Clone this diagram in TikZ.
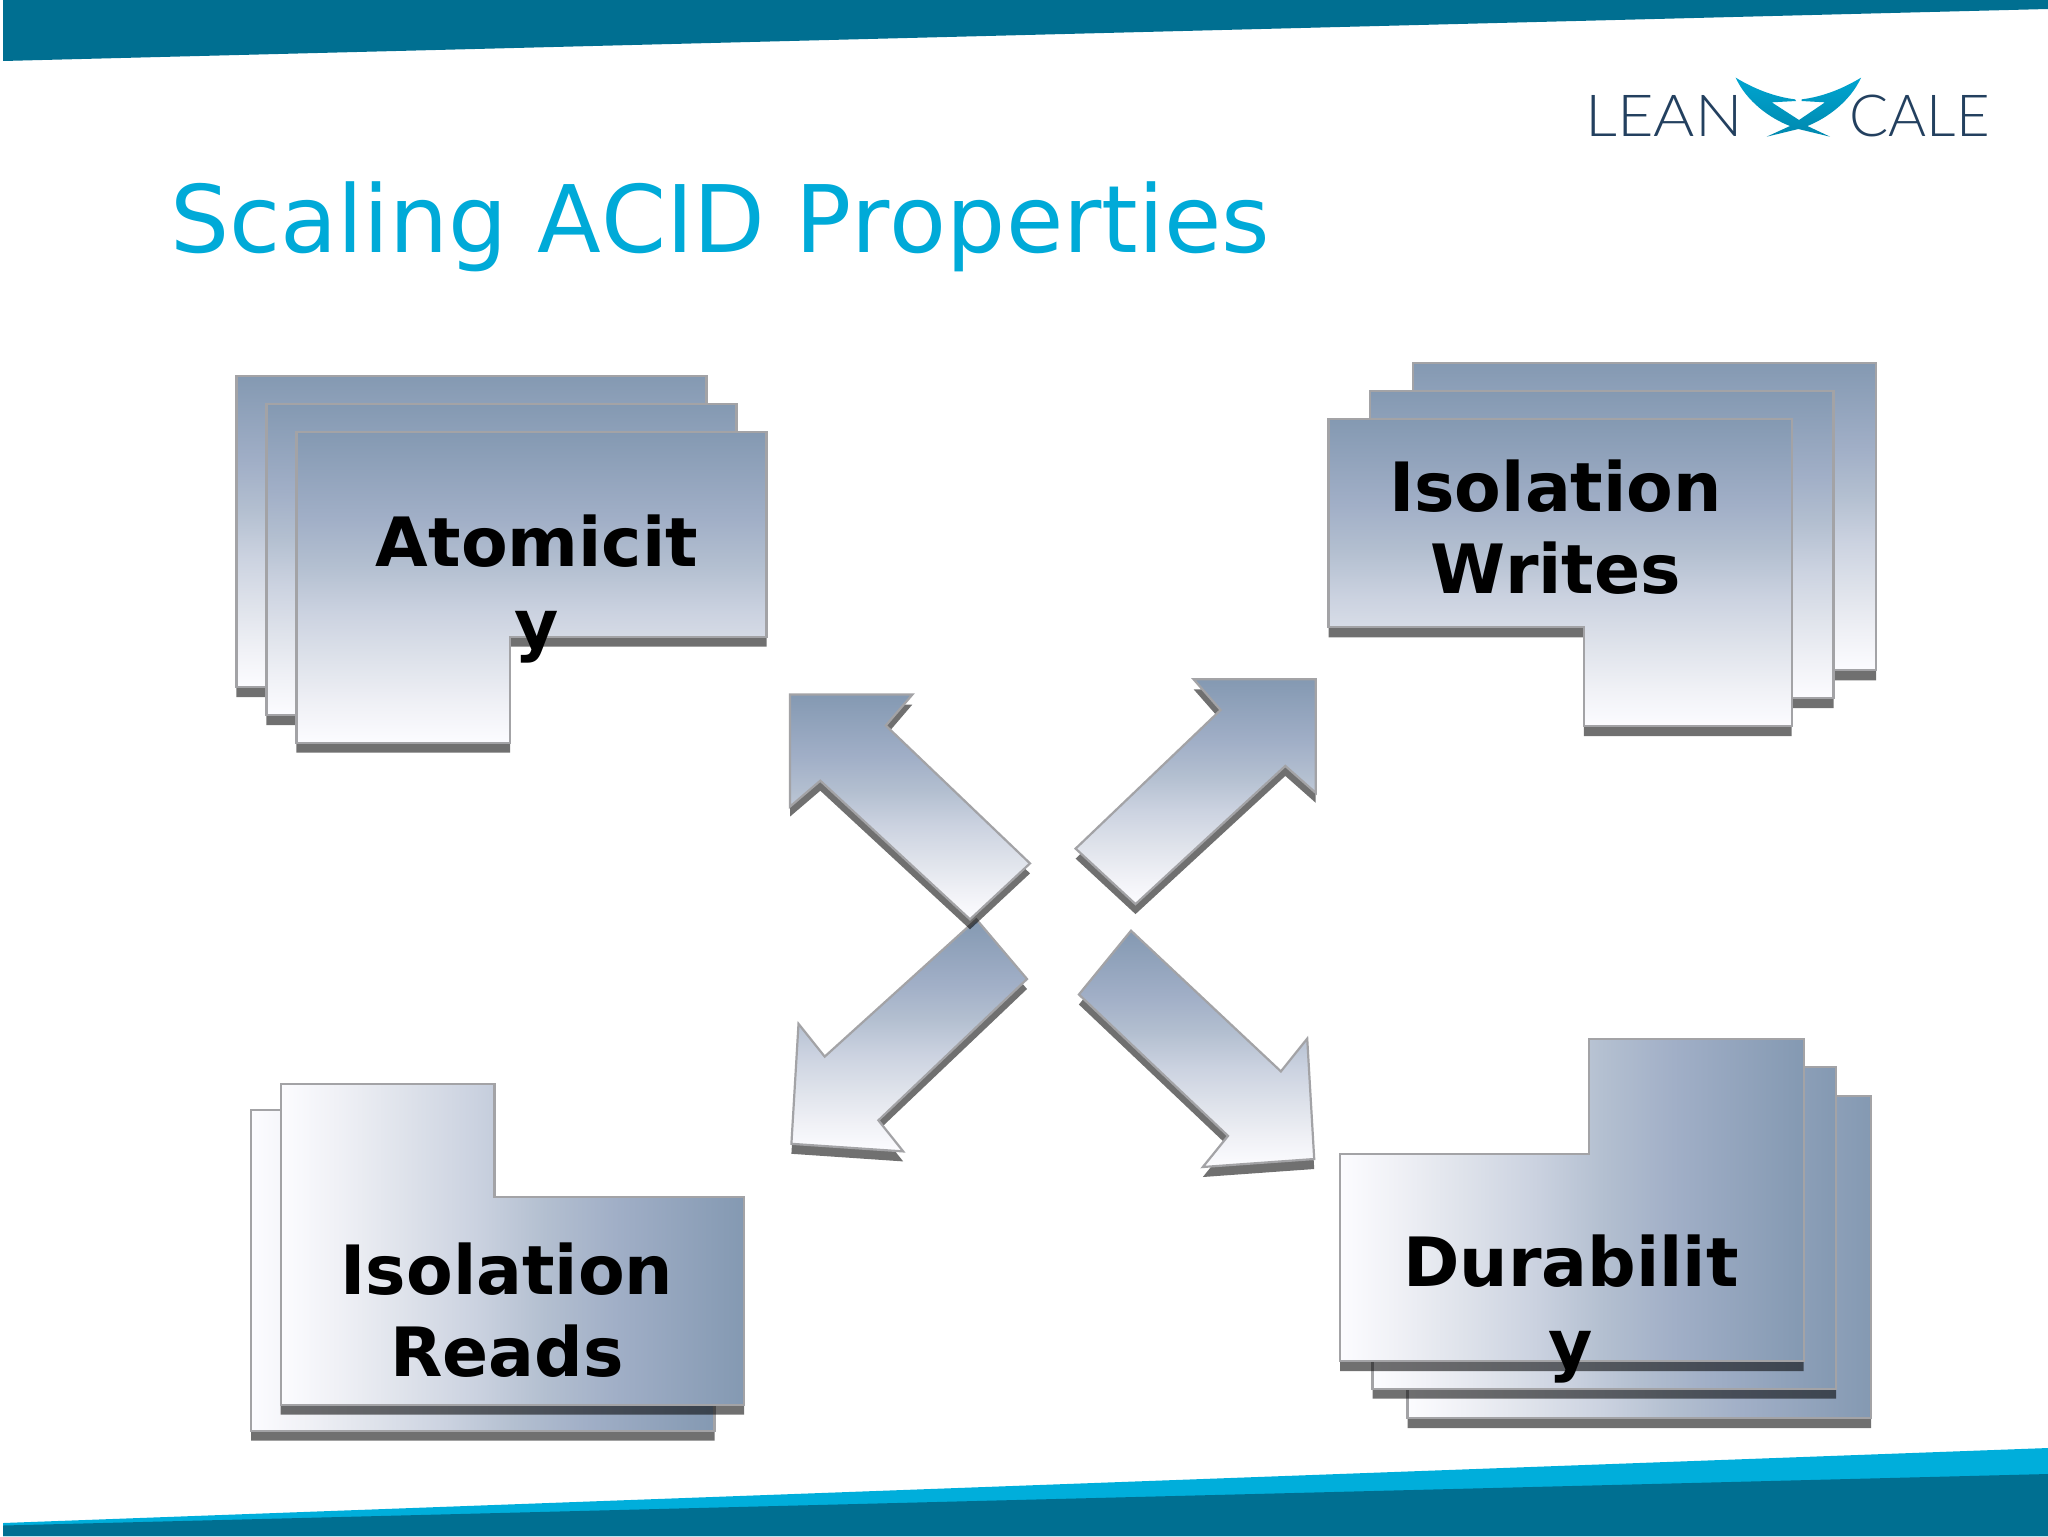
\documentclass[tikz,border=0pt]{standalone}
\usepackage{fontspec}
\setmainfont[Kerning=Off]{DejaVu Sans}
\newfontfamily\logofont{Lato Light}
\definecolor{bandDark}{HTML}{006F91}
\definecolor{bandLight}{HTML}{00AEDB}
\definecolor{titleBlue}{HTML}{00AAD8}
\definecolor{edgeGrey}{HTML}{A3A3A6}
\definecolor{logoNavy}{HTML}{23405F}
\definecolor{gA}{HTML}{FCFCFF}
\definecolor{gB}{HTML}{F0F1F6}
\definecolor{gC}{HTML}{DFE3EB}
\definecolor{gD}{HTML}{CBD2E0}
\definecolor{gE}{HTML}{B3BFD0}
\definecolor{gF}{HTML}{A1AFC7}
\definecolor{gG}{HTML}{8499B2}
\pgfdeclareverticalshading{acidsteel}{100bp}{color(0bp)=(gA); color(25bp)=(gA); color(31bp)=(gB); color(38bp)=(gC); color(46bp)=(gD); color(53.5bp)=(gE); color(61bp)=(gF); color(75bp)=(gG); color(100bp)=(gG)}
\tikzset{
  shadowplate/.style={fill=black,fill opacity=0.56,draw=none},
  faceV/.style={shade,shading=acidsteel,shading angle=0,draw=edgeGrey,line width=1.1pt,line join=miter},
  faceH/.style={shade,shading=acidsteel,shading angle=-90,draw=edgeGrey,line width=1.1pt,line join=miter},
  lbl/.style={font=\fontsize{34}{41}\selectfont\bfseries,text=black,inner sep=0pt,align=center,anchor=base},
}
\newcommand{\plate}[2]{\path[shadowplate,shift={(0,10)}] #2 -- cycle; \path[#1] #2 -- cycle;}
\newcommand{\atomshape}{(296.4,431.7)--(766.5,431.7)--(766.5,636.7)--(510,636.7)--(510,742.7)--(296.4,742.7)}
\newcommand{\writeshape}{(1328.5,419)--(1791.7,419)--(1791.7,726)--(1583.8,726)--(1583.8,627.3)--(1328.5,627.3)}
\newcommand{\readshape}{(280.6,1083.7)--(494.5,1083.7)--(494.5,1197)--(744,1197)--(744,1404.7)--(280.6,1404.7)}
\newcommand{\durashape}{(1340,1153.7)--(1589,1153.7)--(1589,1039)--(1803.6,1039)--(1803.6,1361)--(1340,1361)}
\begin{document}
\begin{tikzpicture}[x=0.5pt,y=-0.5pt]
\useasboundingbox (0,0) rectangle (2048,1536);
\fill[white] (0,0) rectangle (2048,1536);
% bands
\fill[bandDark] (3,0)--(2048,0)--(2048,9)--(3,61)--cycle;
\fill[bandLight] (3,1523)--(2048,1448)--(2048,1536)--(3,1536)--cycle;
\fill[bandDark] (3,1525.5)--(2048,1474)--(2048,1536)--(3,1536)--cycle;
% title
\node[font=\fontsize{46.6}{55}\selectfont,text=titleBlue,inner sep=0pt,anchor=base west] (title) at (170,252.7) {Scaling ACID Properties};
% logo
\node[font=\logofont\fontsize{29}{34}\selectfont,text=logoNavy,inner sep=0pt,anchor=base west,xscale=1.085] (logoa) at (1585,136.7) {LEAN};
\node[font=\logofont\fontsize{29}{34}\selectfont,text=logoNavy,inner sep=0pt,anchor=base east] (logob) at (1990,136.7) {CALE};
\begin{scope}[shift={(1720,65)},x=0.1667pt,y=-0.1667pt]
\path[top color=bandLight!85!bandDark,bottom color=bandDark!60!bandLight,draw=none]
  (47,38) .. controls (100,70) and (160,95) .. (225,103) -- (228,108) -- (155,112) -- (237,165) -- (315,112) -- (245,108) -- (245,103)
  .. controls (310,95) and (370,70) .. (423,38) .. controls (390,110) and (320,160) .. (262,183) -- (330,215) -- (235,192) -- (140,215) -- (210,183)
  .. controls (150,160) and (80,110) .. (47,38) -- cycle;
\end{scope}
% Atomicity
\begin{scope}[shift={(-60,-55.7)}]\plate{faceV}{\atomshape}\end{scope}
\begin{scope}[shift={(-30,-27.7)}]\plate{faceV}{\atomshape}\end{scope}
\plate{faceV}{\atomshape}
% Isolation Writes
\begin{scope}[shift={(84.3,-55.7)}]\plate{faceV}{\writeshape}\end{scope}
\begin{scope}[shift={(41.8,-28)}]\plate{faceV}{\writeshape}\end{scope}
\plate{faceV}{\writeshape}
% Isolation Reads
\begin{scope}[shift={(-29.5,26)}]\plate{faceH}{\readshape}\end{scope}
\plate{faceH}{\readshape}
% Durability
\begin{scope}[shift={(67.5,57)}]\plate{faceH}{\durashape}\end{scope}
\begin{scope}[shift={(32.5,27.7)}]\plate{faceH}{\durashape}\end{scope}
\plate{faceH}{\durashape}
% arrows
\plate{faceV}{(976.4,919.3)--(1027,979)--(878.4,1120.3)--(903.2,1151.4)--(791.4,1143.8)--(798.5,1023.8)--(824.7,1056.6)}
\plate{faceV}{(790,694.5)--(912.4,694.5)--(885.8,725.5)--(1030,863.4)--(970,919.3)--(820.3,780.7)--(790,806.6)}
\plate{faceV}{(1315.7,679.3)--(1315.7,792.8)--(1285.3,765.9)--(1135.5,904.1)--(1075.6,848.6)--(1220.6,710)--(1193.6,679.3)}
\plate{faceV}{(1131,930.7)--(1078.9,994.5)--(1228,1135.9)--(1202.8,1167)--(1314.2,1159)--(1307.2,1038.6)--(1280.9,1071.4)}
% labels
\node[lbl] (atom) at (537,648.7) {Atomicit\\y};
\node[lbl] (writes) at (1555.5,593) {Isolation\\Writes};
\node[lbl] (reads) at (507,1376) {Isolation\\Reads};
\node[lbl] (dura) at (1571,1368.7) {Durabilit\\y};
\end{tikzpicture}
\end{document}
